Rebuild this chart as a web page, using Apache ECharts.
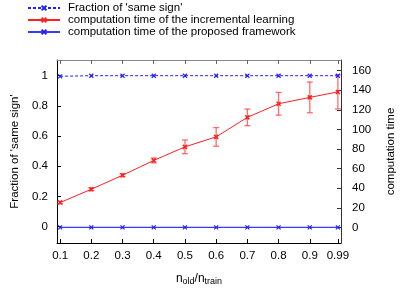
<!DOCTYPE html>
<html>
<head>
<meta charset="utf-8">
<script src="https://cdn.jsdelivr.net/npm/echarts@6/dist/echarts.min.js"></script>
<style>html,body{margin:0;padding:0;background:#fff;}#c{width:415px;height:291px;}</style>
</head>
<body>
<div id="c"></div>
<script>
const ratios = [0.1, 0.2, 0.3, 0.4, 0.5, 0.6, 0.7, 0.8, 0.9, 0.99];
const fractionSameSign = [0.996, 1, 1, 1, 1, 1, 1, 1, 1, 1];
const timeIncremental = [25.3, 38.9, 53.2, 68.3, 82.2, 92.4, 112.3, 126.2, 132.7, 138.3];
const timeIncrementalErr = [1.2, 1.5, 1.5, 2.5, 7, 9.5, 8.5, 11.6, 15.7, 17.4];
const timeProposed = [0, 0, 0, 0, 0, 0, 0, 0, 0, 0];
const leftTicks = [0, 0.2, 0.4, 0.6, 0.8, 1];
const rightTicks = [0, 20, 40, 60, 80, 100, 120, 140, 160];
const seriesNames = ["Fraction of 'same sign'", "computation time of the incremental learning", "computation time of the proposed framework"];

const FONT = 'Liberation Sans';
const crossPath = 'path://M0,0L10,10M10,0L0,10';
const chart = echarts.init(document.getElementById('c'), null, {renderer: 'canvas'});

const errData = ratios.map((r, i) => [r, timeIncremental[i] - timeIncrementalErr[i], timeIncremental[i] + timeIncrementalErr[i]]);

const option = {
  animation: false,
  textStyle: {fontFamily: FONT},
  legend: {
    orient: 'vertical', left: 22, top: 2, itemWidth: 32, itemHeight: 6, itemGap: 0,
    padding: [0, 5, 0, 5],
    textStyle: {fontFamily: FONT, fontSize: 11.5, lineHeight: 12, color: '#000', padding: [0, 0, 0, 3]},
    data: seriesNames
  },
  grid: {left: 57, right: 74, top: 60, bottom: 48},
  xAxis: [{
    type: 'value', min: 0.09, max: 1.0,
    name: '{a|n}{s|old}{a|/n}{s|train}', nameLocation: 'middle', nameGap: 28,
    nameTextStyle: {rich: {a: {fontFamily: FONT, fontSize: 12, color: '#000'}, s: {fontFamily: FONT, fontSize: 9, color: '#000', verticalAlign: 'bottom', padding: [6, 0, 0, 0]}}},
    axisLine: {onZero: false, lineStyle: {color: '#000', width: 1}},
    axisTick: {inside: true, length: 4, customValues: ratios, lineStyle: {color: '#000'}},
    axisLabel: {customValues: ratios, margin: 7, fontSize: 11.5, color: '#000', fontFamily: FONT, formatter: v => String(v)},
    splitLine: {show: false}
  }, {
    type: 'value', min: 0.09, max: 1.0, position: 'top',
    axisLine: {onZero: false, lineStyle: {color: '#888', width: 1}},
    axisTick: {inside: true, length: 4, customValues: ratios, lineStyle: {color: '#666'}},
    axisLabel: {show: false}, splitLine: {show: false}
  }],
  yAxis: [{
    type: 'value', min: -0.108, max: 1.104,
    name: "Fraction of 'same sign'", nameLocation: 'middle', nameGap: 36,
    nameTextStyle: {fontFamily: FONT, fontSize: 11.5, color: '#000'},
    axisLine: {onZero: false, lineStyle: {color: '#000', width: 1}},
    axisTick: {inside: true, length: 4, customValues: leftTicks, lineStyle: {color: '#000'}},
    axisLabel: {customValues: leftTicks, margin: 9, fontSize: 11.5, color: '#000', fontFamily: FONT, formatter: v => String(v)},
    splitLine: {show: false}
  }, {
    type: 'value', min: -16.0, max: 170.9, position: 'right',
    name: 'computation time', nameLocation: 'middle', nameGap: 44,
    nameTextStyle: {fontFamily: FONT, fontSize: 11.5, color: '#000'},
    axisLine: {onZero: false, lineStyle: {color: '#333', width: 1}},
    axisTick: {inside: true, length: 4, customValues: rightTicks, lineStyle: {color: '#333'}},
    axisLabel: {customValues: rightTicks, margin: 11, fontSize: 11.5, color: '#000', fontFamily: FONT, formatter: v => String(v)},
    splitLine: {show: false}
  }],
  series: [{
    name: seriesNames[0], type: 'line', xAxisIndex: 0, yAxisIndex: 0,
    data: ratios.map((r, i) => [r, fractionSameSign[i]]),
    symbol: crossPath, symbolSize: 4, showAllSymbol: true,
    lineStyle: {color: '#2020ff', width: 1, type: [3, 2]},
    itemStyle: {color: '#2020ff', borderColor: '#2020ff', borderWidth: 1.2},
    z: 3
  }, {
    name: seriesNames[1], type: 'line', xAxisIndex: 0, yAxisIndex: 1,
    data: ratios.map((r, i) => [r, timeIncremental[i]]),
    symbol: crossPath, symbolSize: 4,
    lineStyle: {color: '#ff2020', width: 1},
    itemStyle: {color: '#ff2020', borderColor: '#ff2020', borderWidth: 1.5},
    z: 4
  }, {
    name: seriesNames[2], type: 'line', xAxisIndex: 0, yAxisIndex: 1,
    data: ratios.map((r, i) => [r, timeProposed[i]]),
    symbol: crossPath, symbolSize: 4,
    lineStyle: {color: '#3a3aff', width: 1.3},
    itemStyle: {color: '#2020ff', borderColor: '#2020ff', borderWidth: 1.2},
    z: 3
  }, {
    name: 'err', type: 'custom', xAxisIndex: 0, yAxisIndex: 1,
    data: errData, z: 2, silent: true,
    renderItem: function (params, api) {
      const x = api.value(0);
      const lo = api.coord([x, api.value(1)]);
      const hi = api.coord([x, api.value(2)]);
      const w = 3;
      const style = {stroke: 'rgba(255,60,60,0.75)', lineWidth: 1.3, fill: null};
      return {type: 'group', children: [
        {type: 'line', shape: {x1: lo[0], y1: lo[1], x2: hi[0], y2: hi[1]}, style: style},
        {type: 'line', shape: {x1: lo[0] - w, y1: lo[1], x2: lo[0] + w, y2: lo[1]}, style: style},
        {type: 'line', shape: {x1: hi[0] - w, y1: hi[1], x2: hi[0] + w, y2: hi[1]}, style: style}
      ]};
    }
  }]
};
chart.setOption(option);
</script>
</body>
</html>
